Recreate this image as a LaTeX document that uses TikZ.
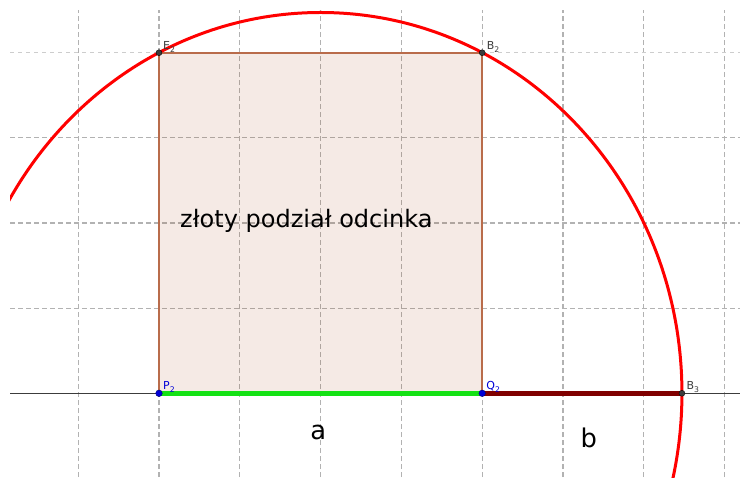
\documentclass[tikz,border=0pt]{standalone}
\usepackage{fontspec}
\setmainfont{DejaVu Sans}
\usetikzlibrary{calc}
\definecolor{gridgray}{RGB}{178,178,178}
\definecolor{gridlight}{RGB}{205,205,205}
\definecolor{axisgray}{RGB}{60,60,60}
\definecolor{squarebrown}{RGB}{153,51,0}
\definecolor{squareedge}{RGB}{185,108,75}
\definecolor{segA}{RGB}{20,225,20}
\definecolor{segB}{RGB}{128,0,0}
\definecolor{ptblue}{RGB}{0,0,215}
\definecolor{ptdark}{RGB}{60,60,60}
\newcommand{\ptname}[2]{#1\raisebox{-0.45ex}{\fontsize{6.6}{7}\selectfont #2}}

\begin{document}
\begin{tikzpicture}[x=2.424cm,y=2.5545cm,
  gridline/.style={gridgray,line width=0.035cm,dash pattern=on 0.15cm off 0.09cm},
  gridtop/.style={gridlight,line width=0.045cm,dash pattern=on 0.13cm off 0.11cm},
  axisline/.style={axisgray,line width=0.03cm},
  squareside/.style={squareedge,line width=0.05cm},
  arcline/.style={red,line width=0.09cm},
  ptlabel/.style={inner sep=0pt,anchor=base west,font=\fontsize{9.4}{10}\selectfont},
  biglabel/.style={inner sep=0pt,anchor=base,font=\fontsize{22}{26}\selectfont}]
\useasboundingbox (-1.9678,-0.983) rectangle (7.1906,4.6189);
\begin{scope}
\clip (-1.844,-0.983) rectangle (7.1906,4.5015);
% siatka
\foreach \x in {-1,...,7}{\draw[gridline] (\x,-0.983) -- (\x,4.5015);}
\foreach \y in {1,2,3}{\draw[gridline] (-1.844,\y) -- (7.1906,\y);}
\draw[gridtop] (-1.844,4) -- (7.1906,4);
\draw[axisline] (-1.844,0) -- (7.1906,0);
% punkty
\coordinate (P2) at (0,0);
\coordinate (Q2) at (4,0);
\coordinate (B2) at (4,4);
\coordinate (E2) at (0,4);
\coordinate (M) at (2,0);
\coordinate (B3) at ({2+sqrt(20)},0);
% kwadrat
\fill[squarebrown,fill opacity=0.1] (P2) -- (Q2) -- (B2) -- (E2) -- cycle;
\draw[squareside] (P2) -- (Q2) -- (B2) -- (E2) -- cycle;
\draw[arcline] (M) circle[radius={sqrt(20)}];
\draw[segA,line width=0.15cm] (P2) -- (Q2);
\draw[segB,line width=0.15cm] (Q2) -- (B3);
\foreach \p in {E2,B2,B3}{\fill[ptdark,draw=black,line width=0.01cm] (\p) circle[radius=0.09cm];}
\foreach \p in {P2,Q2}{\fill[ptblue,draw=black!60!blue,line width=0.01cm] (\p) circle[radius=0.1cm];}
\end{scope}
% etykiety
\node[ptlabel,ptdark] (E2lab) at ([xshift=0.12cm,yshift=0.1cm]E2) {\ptname{E}{2}};
\node[ptlabel,ptdark] (B2lab) at ([xshift=0.13cm,yshift=0.1cm]B2) {\ptname{B}{2}};
\node[ptlabel,ptdark] (B3lab) at ([xshift=0.13cm,yshift=0.1cm]B3) {\ptname{B}{3}};
\node[ptlabel,ptblue] (P2lab) at ([xshift=0.12cm,yshift=0.1cm]P2) {\ptname{P}{2}};
\node[ptlabel,ptblue] (Q2lab) at ([xshift=0.12cm,yshift=0.1cm]Q2) {\ptname{Q}{2}};
\node[inner sep=0pt,anchor=base west,font=\fontsize{20.5}{24}\selectfont] (title) at (0.26,1.95) {złoty podział odcinka};
\node[biglabel] (alab) at (1.97,-0.537) {a};
\node[biglabel] (blab) at (5.32,-0.642) {b};
\end{tikzpicture}
\end{document}
